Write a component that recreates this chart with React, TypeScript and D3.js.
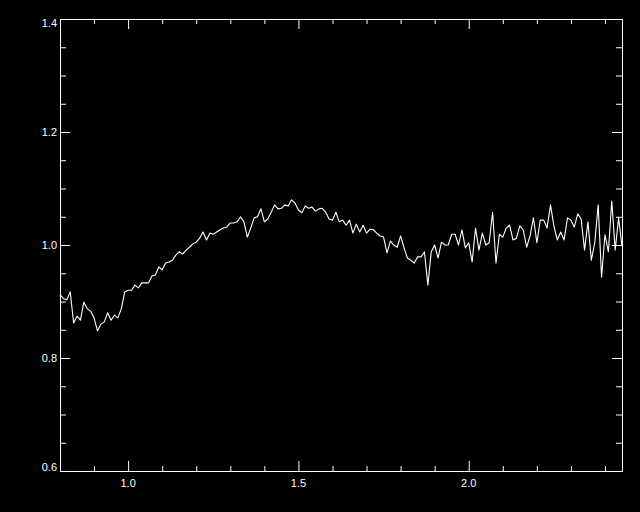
import React, { useRef, useEffect } from "react";
import * as d3 from "d3";

// spectrum, one sample every 0.01 starting at 0.80
const waveStart = 0.8;
const waveStep = 0.01;
const flux = [
  0.912, 0.905, 0.903, 0.917, 0.862, 0.874, 0.867, 0.899, 0.887, 0.883,
  0.871, 0.848, 0.860, 0.864, 0.880, 0.867, 0.876, 0.871, 0.887, 0.917,
  0.920, 0.920, 0.929, 0.924, 0.933, 0.933, 0.933, 0.945, 0.947, 0.961,
  0.956, 0.968, 0.970, 0.973, 0.982, 0.988, 0.984, 0.991, 0.996, 1.002,
  1.005, 1.012, 1.023, 1.009, 1.021, 1.019, 1.023, 1.027, 1.030, 1.032,
  1.039, 1.039, 1.041, 1.050, 1.041, 1.014, 1.030, 1.048, 1.050, 1.064,
  1.041, 1.046, 1.058, 1.071, 1.064, 1.065, 1.071, 1.069, 1.080, 1.074,
  1.062, 1.057, 1.069, 1.065, 1.067, 1.060, 1.064, 1.065, 1.058, 1.046,
  1.044, 1.058, 1.041, 1.044, 1.035, 1.044, 1.021, 1.037, 1.023, 1.035,
  1.021, 1.028, 1.027, 1.021, 1.016, 1.014, 0.986, 1.007, 1.000, 0.996,
  1.016, 0.995, 0.977, 0.973, 0.968, 0.979, 0.979, 0.988, 0.929, 0.988,
  1.000, 0.977, 1.005, 1.000, 1.000, 1.019, 1.019, 1.000, 1.027, 0.995,
  1.004, 0.970, 1.030, 0.991, 1.021, 1.000, 1.004, 1.058, 0.968, 1.019,
  1.014, 1.030, 1.035, 1.009, 1.012, 1.034, 1.027, 0.996, 1.016, 1.048,
  1.004, 1.044, 1.044, 1.030, 1.071, 1.034, 1.009, 1.023, 1.009, 1.048,
  1.044, 1.032, 1.055, 1.046, 0.991, 1.041, 0.973, 1.004, 1.071, 0.943,
  1.018, 0.988, 1.078, 0.991, 1.048, 0.998,
];

const xMajor = [1.0, 1.5, 2.0];
const xMinor = [0.9, 1.1, 1.2, 1.3, 1.4, 1.6, 1.7, 1.8, 1.9, 2.1, 2.2, 2.3, 2.4];
const xLabels = ["1.0", "1.5", "2.0"];
const yMajor = [0.6, 0.8, 1.0, 1.2, 1.4];
const yMinor = [0.65, 0.7, 0.75, 0.85, 0.9, 0.95, 1.05, 1.1, 1.15, 1.25, 1.3, 1.35];
const yLabels = ["0.6", "0.8", "1.0", "1.2", "1.4"];

const W = 640;
const H = 512;
const left = 60;
const right = 622;
const top = 19;
const bottom = 471;

const App = () => {
  const svgRef = useRef(null);

  useEffect(() => {
    const svg = d3.select(svgRef.current);
    svg.selectAll("*").remove();

    const x = d3.scaleLinear().domain([0.8, 2.45]).range([left, right]);
    const y = d3.scaleLinear().domain([0.6, 1.4]).range([bottom, top]);

    const points = flux.map((f, i) => [waveStart + i * waveStep, f]);

    // ticks point inward on all four sides, no labels from the axis itself
    const drawAxis = (axisFn, scale, tr, major, minor, bigLen, smallLen) => {
      const gMinor = svg.append("g").attr("transform", tr).attr("color", "white");
      gMinor.call(axisFn(scale).tickValues(minor).tickSizeInner(-smallLen).tickSizeOuter(0).tickFormat(() => ""));
      const gMajor = svg.append("g").attr("transform", tr).attr("color", "white");
      gMajor.call(axisFn(scale).tickValues(major).tickSizeInner(-bigLen).tickSizeOuter(0).tickFormat(() => ""));
    };
    drawAxis(d3.axisBottom, x, `translate(0,${bottom})`, xMajor, xMinor, 10, 5);
    drawAxis(d3.axisTop, x, `translate(0,${top})`, xMajor, xMinor, 10, 5);
    drawAxis(d3.axisLeft, y, `translate(${left},0)`, yMajor, yMinor, 10, 6);
    drawAxis(d3.axisRight, y, `translate(${right},0)`, yMajor, yMinor, 10, 6);

    // labels
    svg.append("g")
      .selectAll("text")
      .data(xMajor)
      .join("text")
      .attr("x", d => x(d))
      .attr("y", bottom + 16)
      .attr("text-anchor", "middle")
      .attr("fill", "white")
      .style("font", "11px 'Liberation Sans', Arial, sans-serif")
      .text((d, i) => xLabels[i]);

    svg.append("g")
      .selectAll("text")
      .data(yMajor)
      .join("text")
      .attr("x", left - 3)
      .attr("y", (d, i) => {
        if (i === 0) return y(d);
        if (i === yMajor.length - 1) return y(d) + 8;
        return y(d) + 4;
      })
      .attr("text-anchor", "end")
      .attr("fill", "white")
      .style("font", "11px 'Liberation Sans', Arial, sans-serif")
      .text((d, i) => yLabels[i]);

    const line = d3.line().x(d => x(d[0])).y(d => y(d[1]));
    svg.append("path")
      .datum(points)
      .attr("d", line)
      .attr("fill", "none")
      .attr("stroke", "white")
      .attr("stroke-width", 1.1)
      .attr("stroke-linejoin", "round");
  }, []);

  return (
    <svg
      ref={svgRef}
      width={W}
      height={H}
      style={{ position: "absolute", left: 0, top: 0, display: "block", background: "black" }}
    ></svg>
  );
};

export default App;
